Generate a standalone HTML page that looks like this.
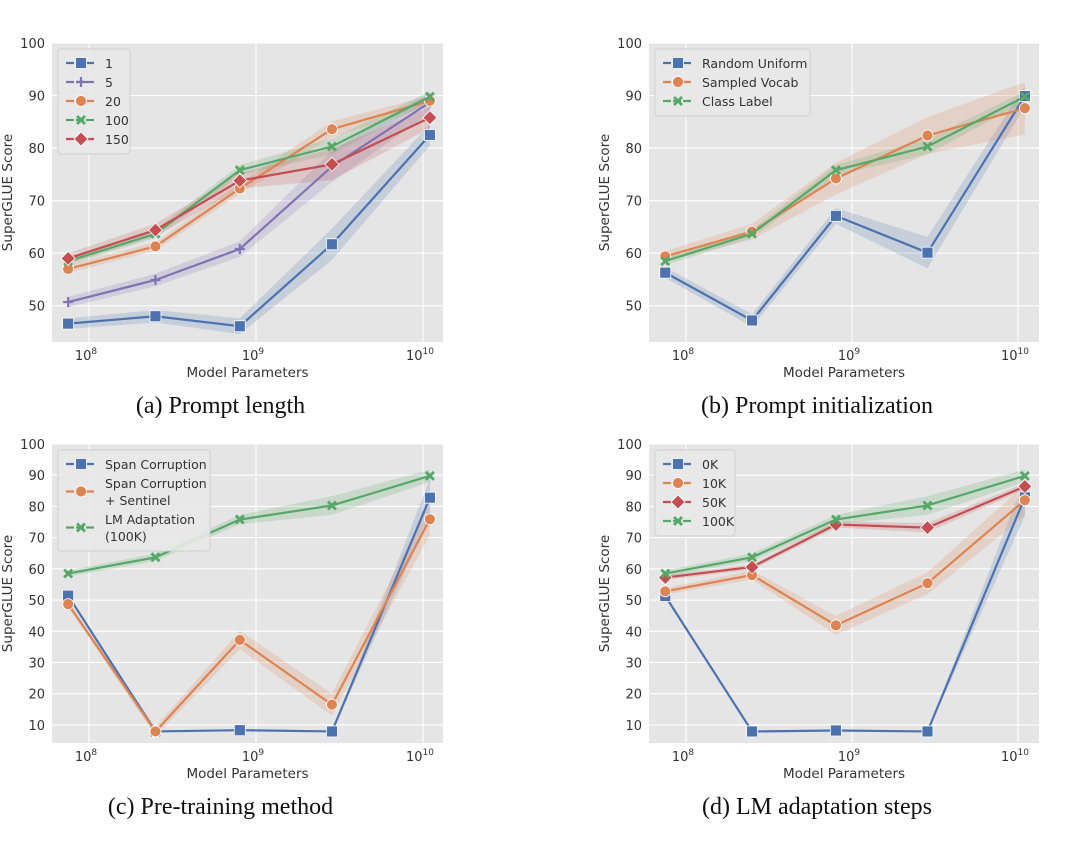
<!DOCTYPE html>
<html><head><meta charset="utf-8"><style>
body{margin:0;background:#fff;width:1080px;height:857px;overflow:hidden}
svg{display:block}
.tick{font-family:"DejaVu Sans",sans-serif;font-size:13px;fill:#333}
.lab{font-family:"DejaVu Sans",sans-serif;font-size:13.5px;fill:#333}
.cap{font-family:"Liberation Serif",serif;font-size:24px;fill:#111}
.leg{font-family:"DejaVu Sans",sans-serif;font-size:12.5px;fill:#333}
</style></head><body>
<svg id="chart" width="1080" height="857"></svg>
<script>
const xVals=[7.5e7,2.5e8,8e8,2.85e9,1.1e10];
const xTickExps=[8,9,10];
const C={blue:"#4c72b0",orange:"#dd8452",green:"#55a868",red:"#c44e52",purple:"#8172b3"};
// panel a
const aNames=["1","5","20","100","150"];
const a1=[46.6,48.0,46.1,61.7,82.5];
const a5=[50.7,54.9,60.8,76.5,88.7];
const a20=[57.0,61.3,72.3,83.6,89.0];
const a100=[58.5,63.7,75.8,80.3,89.8];
const a150=[59.0,64.4,73.8,76.9,85.8];
// panel b
const bNames=["Random Uniform","Sampled Vocab","Class Label"];
const bRand=[56.3,47.2,67.1,60.1,89.9];
const bVocab=[59.4,64.1,74.2,82.4,87.6];
const bClass=[58.5,63.7,75.8,80.3,89.8];
// panel c
const cNames=[["Span Corruption"],["Span Corruption","+ Sentinel"],["LM Adaptation","(100K)"]];
const cSpan=[51.4,7.9,8.3,7.9,82.8];
const cSent=[48.7,7.9,37.2,16.5,75.9];
const cLM=[58.5,63.7,75.8,80.3,89.8];
// panel d
const dNames=["0K","10K","50K","100K"];
const d0=[51.3,7.9,8.2,7.9,82.9];
const d10=[52.8,58.0,41.9,55.4,82.0];
const d50=[57.2,60.6,74.2,73.2,86.4];
const d100=[58.5,63.7,75.8,80.3,89.8];
// band half widths
const bandSmall=[0.8,0.8,1,1.5,1];
const bandMid=[1,1.2,1.5,3,2];
const bandBig=[1,1.5,3,3.5,5];
const bandFlat=[0.5,0.2,0.2,0.2,6];

const NS="http://www.w3.org/2000/svg";
const svg=document.getElementById('chart');
function mk(t,at,p){const e=document.createElementNS(NS,t);for(const k in at)e.setAttribute(k,at[k]);(p||svg).appendChild(e);return e;}

function marker(g,type,x,y,col){
  let e;
  if(type==='s'){e=mk('rect',{x:x-5.5,y:y-5.5,width:11,height:11,fill:col,stroke:'#fff','stroke-width':0.8},g);}
  else if(type==='o'){e=mk('circle',{cx:x,cy:y,r:5.5,fill:col,stroke:'#fff','stroke-width':0.8},g);}
  else if(type==='D'){e=mk('path',{d:`M${x} ${y-7}L${x+7} ${y}L${x} ${y+7}L${x-7} ${y}Z`,fill:col,stroke:'#fff','stroke-width':0.8},g);}
  else if(type==='x'){e=mk('path',{d:`M${x-4} ${y-4}L${x+4} ${y+4}M${x-4} ${y+4}L${x+4} ${y-4}`,stroke:col,'stroke-width':2.8,fill:'none'},g);}
  else {e=mk('path',{d:`M${x-5} ${y}L${x+5} ${y}M${x} ${y-5}L${x} ${y+5}`,stroke:col,'stroke-width':2.2,fill:'none'},g);}
  return e;
}

function panel(o){
  const {L,T,W,H,ymin,ymax,yticks,dec8x,decW,series,caption,legend,legW}=o;
  const g=mk('g',{});
  
  
  const X=v=>dec8x+(Math.log10(v)-8)*decW;
  const Y=v=>T+H-(v-ymin)/(ymax-ymin)*H;
  const bg=mk('rect',{x:L,y:T,width:W,height:H,fill:'#e5e5e5'},g);
  
  
  yticks.forEach(t=>{
    mk('line',{x1:L,x2:L+W,y1:Y(t),y2:Y(t),stroke:'#fff','stroke-width':1.1},g);
    const tx=mk('text',{x:L-7,y:Y(t)+5,'text-anchor':'end',class:'tick'},g);tx.textContent=t;
    
    
  });
  xTickExps.forEach(e=>{
    const x=X(Math.pow(10,e));
    mk('line',{x1:x,x2:x,y1:T,y2:T+H,stroke:'#fff','stroke-width':1.1},g);
    const tx=mk('text',{x:x-3,y:T+H+18,'text-anchor':'middle',class:'tick'},g);
    
    
    tx.appendChild(document.createTextNode('10'));
    const sp=document.createElementNS(NS,'tspan');sp.setAttribute('dy','-6');sp.setAttribute('font-size','9');sp.textContent=e;tx.appendChild(sp);
  });
  series.forEach(s=>{
    const up=s.v.map((v,i)=>[X(xVals[i]),Y(v+s.b[i])]);
    const dn=s.v.map((v,i)=>[X(xVals[i]),Y(v-s.b[i])]).reverse();
    const band=mk('path',{d:'M'+up.concat(dn).map(p=>p.join(' ')).join('L')+'Z',fill:s.c,'fill-opacity':0.2},g);
    
    
  });
  series.forEach(s=>{
    const ln=mk('polyline',{points:s.v.map((v,i)=>X(xVals[i])+','+Y(v)).join(' '),fill:'none',stroke:s.c,'stroke-width':2.2},g);
    
    
    s.v.forEach((v,i)=>{const m=marker(g,s.m,X(xVals[i]),Y(v),s.c);
      
      });
  });
  let lh=0;legend.forEach(l=>lh+=l.lines.length*17+2);
  const lx=L+6,ly=T+6;
  const lb=mk('rect',{x:lx,y:ly,width:legW,height:lh+10,rx:3,fill:'#e8e8e8',stroke:'#d0d0d0','stroke-width':1,'fill-opacity':0.9},g);
  
  
  let cy=ly+14;
  legend.forEach((l,k)=>{
    const n=l.lines.length;
    const my=cy+(n-1)*8.5;
    const s=series[l.i];
    mk('line',{x1:lx+8,x2:lx+38,y1:my,y2:my,stroke:s.c,'stroke-width':2.2,'stroke-dasharray':'8,2'},g);
    marker(g,s.m,lx+23,my,s.c);
    l.lines.forEach((t,j)=>{const tx=mk('text',{x:lx+47,y:cy+5+j*17,class:'leg'},g);tx.textContent=t;
      
      });
    cy+=n*17+2;
  });
  const xl=mk('text',{x:L+W/2,y:T+H+35,'text-anchor':'middle',class:'lab'},g);xl.textContent='Model Parameters';
  
  
  const yl=mk('text',{x:0,y:0,'text-anchor':'middle',class:'lab',transform:`translate(${L-40},${T+H/2}) rotate(-90)`},g);yl.textContent='SuperGLUE Score';
  
  
  const cp=mk('text',{x:L+W/2-27,y:T+H+71,'text-anchor':'middle',class:'cap'},g);cp.textContent=caption;
  
  
}

const yt1=[50,60,70,80,90,100], yt2=[10,20,30,40,50,60,70,80,90,100];
panel({name:'panel-prompt-length',L:52,T:43,W:391,H:299,ymin:43.1,ymax:100,yticks:yt1,dec8x:89,decW:167,caption:'(a) Prompt length',legW:72,
 series:[{v:a1,c:C.blue,m:'s',b:bandMid},{v:a5,c:C.purple,m:'+',b:bandMid},{v:a20,c:C.orange,m:'o',b:bandSmall},{v:a100,c:C.green,m:'x',b:bandSmall},{v:a150,c:C.red,m:'D',b:bandMid}],
 legend:aNames.map((n,i)=>({i,lines:[n]}))});
panel({name:'panel-prompt-initialization',L:649,T:43,W:390,H:299,ymin:43.1,ymax:100,yticks:yt1,dec8x:686,decW:166,caption:'(b) Prompt initialization',legW:155,
 series:[{v:bRand,c:C.blue,m:'s',b:bandMid},{v:bVocab,c:C.orange,m:'o',b:bandBig},{v:bClass,c:C.green,m:'x',b:bandSmall}],
 legend:bNames.map((n,i)=>({i,lines:[n]}))});
panel({name:'panel-pretraining-method',L:52,T:444,W:391,H:299,ymin:4.2,ymax:100,yticks:yt2,dec8x:89,decW:167,caption:'(c) Pre-training method',legW:152,
 series:[{v:cSpan,c:C.blue,m:'s',b:bandFlat},{v:cSent,c:C.orange,m:'o',b:bandBig},{v:cLM,c:C.green,m:'x',b:bandMid}],
 legend:cNames.map((n,i)=>({i,lines:n}))});
panel({name:'panel-lm-adaptation-steps',L:649,T:444,W:390,H:299,ymin:4.2,ymax:100,yticks:yt2,dec8x:686,decW:166,caption:'(d) LM adaptation steps',legW:80,
 series:[{v:d0,c:C.blue,m:'s',b:bandFlat},{v:d10,c:C.orange,m:'o',b:bandBig},{v:d50,c:C.red,m:'D',b:bandSmall},{v:d100,c:C.green,m:'x',b:bandMid}],
 legend:dNames.map((n,i)=>({i,lines:[n]}))});
</script>
</body></html>
